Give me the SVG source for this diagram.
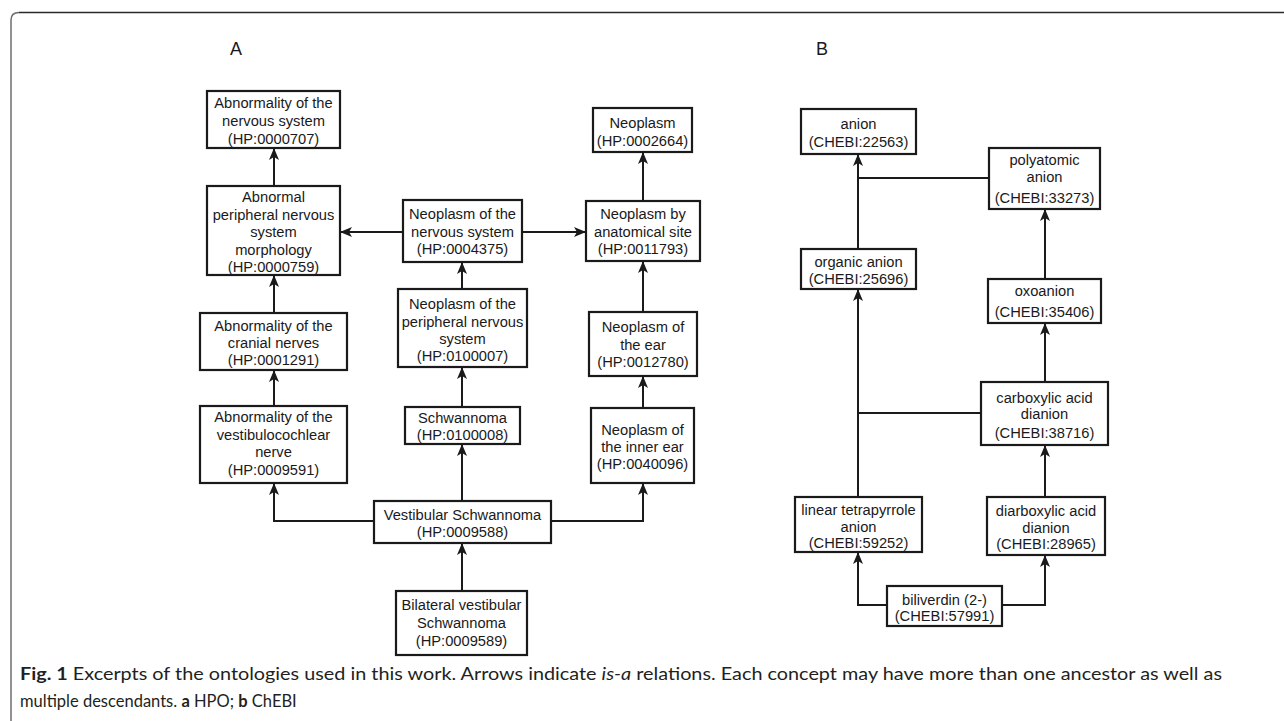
<svg xmlns="http://www.w3.org/2000/svg" width="1284" height="721" viewBox="0 0 1284 721">
  <style>
    .box { fill: #ffffff; stroke: #1a1a1a; stroke-width: 2.2; }
    .lbl { font-family: "Liberation Sans", Arial, sans-serif; font-size: 14.7px; fill: #1a1a1a; text-anchor: middle; }
    .panel { font-family: "Liberation Sans", Arial, sans-serif; font-size: 18px; fill: #1a1a1a; text-anchor: middle; }
    .edge { fill: none; stroke: #1a1a1a; stroke-width: 2; }
    .cap { font-family: Lato, "Open Sans", sans-serif; font-size: 16.5px; fill: #231f20; }
  </style>
  <defs>
    <marker id="arrow" viewBox="0 0 12 10" refX="11" refY="5" markerWidth="12" markerHeight="10" markerUnits="userSpaceOnUse" orient="auto">
      <path d="M0,0 L12,5 L0,10 L3,5 Z" fill="#1a1a1a"/>
    </marker>
  </defs>

  <!-- figure frame -->
  <path d="M11,721 V20 Q11,12.5 19,12.5" fill="none" stroke="#6d6d6d" stroke-width="1.5"/>
  <path d="M19,12.5 H1284" fill="none" stroke="#2a2a2a" stroke-width="1.5"/>

  <!-- panel labels -->
  <text class="panel" x="236" y="55">A</text>
  <text class="panel" x="822" y="55">B</text>

  <!-- connectors -->
  <g id="connectors">
    <!-- panel A: HPO -->
    <path class="edge" d="M274,186 V149" marker-end="url(#arrow)"/>
    <path class="edge" d="M274,313 V276" marker-end="url(#arrow)"/>
    <path class="edge" d="M274,406 V371" marker-end="url(#arrow)"/>
    <path class="edge" d="M374,521 H274 V484" marker-end="url(#arrow)"/>
    <path class="edge" d="M462,501 V445" marker-end="url(#arrow)"/>
    <path class="edge" d="M462,407 V368" marker-end="url(#arrow)"/>
    <path class="edge" d="M462,289 V263" marker-end="url(#arrow)"/>
    <path class="edge" d="M403,232 H341" marker-end="url(#arrow)"/>
    <path class="edge" d="M522,232 H585" marker-end="url(#arrow)"/>
    <path class="edge" d="M643,201 V153" marker-end="url(#arrow)"/>
    <path class="edge" d="M643,312 V262" marker-end="url(#arrow)"/>
    <path class="edge" d="M643,408 V377" marker-end="url(#arrow)"/>
    <path class="edge" d="M551,521 H643 V484" marker-end="url(#arrow)"/>
    <path class="edge" d="M462,591 V544" marker-end="url(#arrow)"/>
    <!-- panel B: ChEBI -->
    <path class="edge" d="M858,249 V155" marker-end="url(#arrow)"/>
    <path class="edge" d="M989,178 H858"/>
    <path class="edge" d="M1045,279 V210" marker-end="url(#arrow)"/>
    <path class="edge" d="M1045,382 V324" marker-end="url(#arrow)"/>
    <path class="edge" d="M981,413 H858"/>
    <path class="edge" d="M858,497 V290" marker-end="url(#arrow)"/>
    <path class="edge" d="M1045,497 V446" marker-end="url(#arrow)"/>
    <path class="edge" d="M887,605 H858 V553" marker-end="url(#arrow)"/>
    <path class="edge" d="M1002,605 H1045 V556" marker-end="url(#arrow)"/>
  </g>

  <!-- panel A nodes -->
  <g id="hp0000707">
    <rect class="box" x="207" y="91" width="133" height="57"/>
    <text class="lbl" x="273.5" y="108">Abnormality of the</text>
    <text class="lbl" x="273.5" y="126">nervous system</text>
    <text class="lbl" x="273.5" y="144">(HP:0000707)</text>
  </g>
  <g id="hp0000759">
    <rect class="box" x="207" y="186" width="133" height="89"/>
    <text class="lbl" x="273.5" y="202">Abnormal</text>
    <text class="lbl" x="273.5" y="219.5">peripheral nervous</text>
    <text class="lbl" x="273.5" y="237">system</text>
    <text class="lbl" x="273.5" y="254.5">morphology</text>
    <text class="lbl" x="273.5" y="271.5">(HP:0000759)</text>
  </g>
  <g id="hp0001291">
    <rect class="box" x="200" y="313" width="147" height="57"/>
    <text class="lbl" x="273.5" y="331">Abnormality of the</text>
    <text class="lbl" x="273.5" y="348">cranial nerves</text>
    <text class="lbl" x="273.5" y="365">(HP:0001291)</text>
  </g>
  <g id="hp0009591">
    <rect class="box" x="200" y="406" width="147" height="77"/>
    <text class="lbl" x="273.5" y="422">Abnormality of the</text>
    <text class="lbl" x="273.5" y="439.5">vestibulocochlear</text>
    <text class="lbl" x="273.5" y="457">nerve</text>
    <text class="lbl" x="273.5" y="475">(HP:0009591)</text>
  </g>
  <g id="hp0004375">
    <rect class="box" x="403" y="200" width="119" height="62"/>
    <text class="lbl" x="462.5" y="219">Neoplasm of the</text>
    <text class="lbl" x="462.5" y="237">nervous system</text>
    <text class="lbl" x="462.5" y="254">(HP:0004375)</text>
  </g>
  <g id="hp0100007">
    <rect class="box" x="398" y="289" width="129" height="78"/>
    <text class="lbl" x="462.5" y="309">Neoplasm of the</text>
    <text class="lbl" x="462.5" y="326.5">peripheral nervous</text>
    <text class="lbl" x="462.5" y="344">system</text>
    <text class="lbl" x="462.5" y="361">(HP:0100007)</text>
  </g>
  <g id="hp0100008">
    <rect class="box" x="405" y="407" width="115" height="37"/>
    <text class="lbl" x="462.5" y="423">Schwannoma</text>
    <text class="lbl" x="462.5" y="440">(HP:0100008)</text>
  </g>
  <g id="hp0009588">
    <rect class="box" x="374" y="501" width="177" height="42"/>
    <text class="lbl" x="462.5" y="520">Vestibular Schwannoma</text>
    <text class="lbl" x="462.5" y="537">(HP:0009588)</text>
  </g>
  <g id="hp0009589">
    <rect class="box" x="396" y="591" width="131" height="64"/>
    <text class="lbl" x="461.5" y="610">Bilateral vestibular</text>
    <text class="lbl" x="461.5" y="628">Schwannoma</text>
    <text class="lbl" x="461.5" y="646">(HP:0009589)</text>
  </g>
  <g id="hp0002664">
    <rect class="box" x="593" y="108" width="99" height="44"/>
    <text class="lbl" x="642.5" y="128">Neoplasm</text>
    <text class="lbl" x="642.5" y="146">(HP:0002664)</text>
  </g>
  <g id="hp0011793">
    <rect class="box" x="586" y="201" width="114" height="60"/>
    <text class="lbl" x="643" y="219">Neoplasm by</text>
    <text class="lbl" x="643" y="237">anatomical site</text>
    <text class="lbl" x="643" y="254">(HP:0011793)</text>
  </g>
  <g id="hp0012780">
    <rect class="box" x="589" y="312" width="108" height="64"/>
    <text class="lbl" x="643" y="332">Neoplasm of</text>
    <text class="lbl" x="643" y="350">the ear</text>
    <text class="lbl" x="643" y="367">(HP:0012780)</text>
  </g>
  <g id="hp0040096">
    <rect class="box" x="591" y="408" width="103" height="75"/>
    <text class="lbl" x="642.5" y="435">Neoplasm of</text>
    <text class="lbl" x="642.5" y="452">the inner ear</text>
    <text class="lbl" x="642.5" y="469">(HP:0040096)</text>
  </g>

  <!-- panel B nodes -->
  <g id="chebi22563">
    <rect class="box" x="801" y="109" width="115" height="45"/>
    <text class="lbl" x="858.5" y="129">anion</text>
    <text class="lbl" x="858.5" y="147">(CHEBI:22563)</text>
  </g>
  <g id="chebi33273">
    <rect class="box" x="989" y="148" width="111" height="61"/>
    <text class="lbl" x="1044.5" y="165">polyatomic</text>
    <text class="lbl" x="1044.5" y="182">anion</text>
    <text class="lbl" x="1044.5" y="203">(CHEBI:33273)</text>
  </g>
  <g id="chebi25696">
    <rect class="box" x="801" y="249" width="115" height="40"/>
    <text class="lbl" x="858.5" y="267">organic anion</text>
    <text class="lbl" x="858.5" y="284">(CHEBI:25696)</text>
  </g>
  <g id="chebi35406">
    <rect class="box" x="988" y="279" width="113" height="44"/>
    <text class="lbl" x="1044.5" y="296">oxoanion</text>
    <text class="lbl" x="1044.5" y="317">(CHEBI:35406)</text>
  </g>
  <g id="chebi38716">
    <rect class="box" x="981" y="382" width="127" height="63"/>
    <text class="lbl" x="1044.5" y="403">carboxylic acid</text>
    <text class="lbl" x="1044.5" y="419">dianion</text>
    <text class="lbl" x="1044.5" y="438">(CHEBI:38716)</text>
  </g>
  <g id="chebi59252">
    <rect class="box" x="795" y="497" width="127" height="55"/>
    <text class="lbl" x="858.5" y="515">linear tetrapyrrole</text>
    <text class="lbl" x="858.5" y="532">anion</text>
    <text class="lbl" x="858.5" y="548">(CHEBI:59252)</text>
  </g>
  <g id="chebi28965">
    <rect class="box" x="987" y="497" width="118" height="58"/>
    <text class="lbl" x="1046" y="516">diarboxylic acid</text>
    <text class="lbl" x="1046" y="533">dianion</text>
    <text class="lbl" x="1046" y="549">(CHEBI:28965)</text>
  </g>
  <g id="chebi57991">
    <rect class="box" x="887" y="586" width="115" height="40"/>
    <text class="lbl" x="944.5" y="605">biliverdin (2-)</text>
    <text class="lbl" x="944.5" y="621">(CHEBI:57991)</text>
  </g>

  <!-- caption -->
  <text class="cap" x="20" y="680" textLength="1202" lengthAdjust="spacingAndGlyphs"><tspan font-weight="bold">Fig. 1</tspan> Excerpts of the ontologies used in this work. Arrows indicate <tspan font-style="italic">is-a</tspan> relations. Each concept may have more than one ancestor as well as</text>
  <text class="cap" x="20" y="707">multiple descendants. <tspan font-weight="bold">a</tspan> HPO; <tspan font-weight="bold">b</tspan> ChEBI</text>
</svg>
